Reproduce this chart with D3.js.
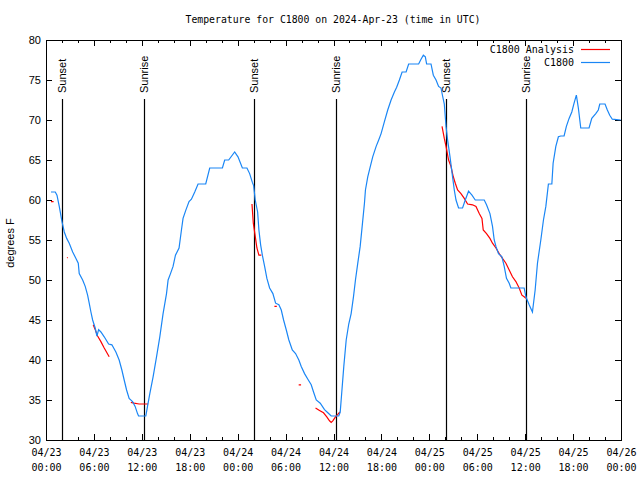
<!DOCTYPE html>
<html>
<head>
<meta charset="utf-8">
<script src="https://cdn.jsdelivr.net/npm/d3@7"></script>
<style>
  html, body { margin: 0; padding: 0; background: #fff; }
  svg { display: block; }
</style>
</head>
<body>
<script>
// ---- Data (hours since 2024-04-23 00:00 UTC, temperature in °F) ----
const startUTC = Date.UTC(2024, 3, 23, 0, 0);

const obsHours = [0.625,1.16,1.375,1.66,2.0,2.29,2.59,2.91,3.34,3.75,4.04,4.16,4.59,4.91,5.21,5.41,5.625,5.84,6.16,6.375,6.59,6.875,7.29,7.84,8.25,8.75,9.16,9.5,9.79,10.09,10.41,10.84,11.16,11.46,11.59,12.5,12.71,13.0,13.41,13.84,14.25,14.66,15.09,15.29,15.59,15.91,16.21,16.66,16.96,17.16,17.5,17.91,18.21,18.625,19.04,20.0,20.5,22.09,22.375,22.875,23.625,24.04,24.59,25.16,25.5,25.84,26.0,26.2,26.5,26.66,26.875,27.09,27.375,27.66,28.0,28.41,28.75,29.16,29.46,29.75,30.09,30.41,30.84,31.25,31.66,31.96,32.375,32.79,33.21,33.5,33.84,34.34,34.875,35.29,35.71,36.66,36.84,36.96,37.29,37.59,37.91,38.21,38.5,38.75,39.04,39.34,39.59,39.875,40.0,40.29,40.59,40.91,41.34,41.66,41.96,42.375,42.79,43.21,43.625,43.91,44.25,44.59,45.09,45.41,46.66,46.96,47.25,47.5,47.66,48.21,48.5,48.84,49.16,49.46,49.66,49.875,50.09,50.29,50.59,50.91,51.125,51.34,51.66,52.16,52.5,52.91,53.34,53.75,54.875,55.16,55.59,55.91,56.125,56.34,56.66,57.09,57.375,57.66,58.0,58.21,59.875,60.09,60.5,60.91,61.25,61.54,61.96,62.29,62.59,62.91,63.34,63.5,63.84,64.16,64.46,64.875,65.16,65.5,65.84,66.125,66.41,66.66,66.96,68.0,68.34,68.84,69.16,69.34,70.0,70.29,70.59,70.91,71.96];
const obsTemps = [61,61,60.6,59.2,57.3,56.0,55.2,54.6,53.5,52.7,52.1,50.8,50,49.2,48.1,47.1,46.0,45,44.0,43.0,43.8,43.5,42.9,42,41.9,41.0,40,38.75,37.5,36.25,35.2,34.8,34.2,33.3,33,33,34.2,35.8,37.9,40.4,42.9,45.8,48.3,50,50.8,51.7,53.1,54,56.25,57.7,58.7,59.8,60.1,61.0,62,62,64,64,65,65,66,65.4,64,64,63.3,62.2,61.8,60,58.5,56.25,54.4,53.1,51.7,50.2,49,48.3,47.1,46.9,46.25,45,43.75,42.5,41.25,40.8,40,39.2,38.3,37.6,36.9,36.0,35,34.6,33.8,33.4,33,33,33.5,35,39.2,42.5,44.5,45.8,47.9,50,52.1,54.2,56.7,59.6,61.25,62.9,64.1,65.4,66.7,67.5,68.3,69.8,71.25,72.5,73.5,74.1,75,76,76,77,77,77.6,78.1,77.9,77,77,75.6,75,74.2,74,73,72,69.2,67.5,65.4,62.9,61.25,60,59,59,60,61.1,60.6,60,60,59.4,58.3,56.7,55,54.2,53.3,52.9,51.7,50.2,49.6,49,49,47.9,46.9,46.0,48.75,52.1,55,57.5,59.2,62,62,64.6,66.7,67.9,68,68,69.2,70.2,71,72.1,73.1,71.5,69,69,70.2,70.8,71.25,72,72,71.25,70.6,70.1,70];

// Analysis series; null marks a gap
const anaHours = [0.625,0.95,null,2.62,2.72,null,5.91,6.16,6.46,6.875,7.29,7.91,null,10.625,11.04,11.66,12.79,null,25.79,25.96,26.21,26.41,26.66,26.96,null,28.6,28.9,null,31.64,31.94,null,33.75,34.25,34.75,35.16,35.5,35.71,35.91,36.25,36.54,36.8,null,49.59,49.875,50.09,50.41,50.71,51.0,51.25,51.54,51.96,52.375,52.79,53.41,53.84,54.25,54.59,54.75,55.16,55.59,55.91,56.34,56.75,57.16,57.59,58.0,58.41,58.84,59.25,59.59,59.875,60.09];
const anaTemps = [59.8,59.8,null,52.8,52.8,null,44.4,43.8,43.0,42.3,41.5,40.4,null,34.7,34.6,34.5,34.5,null,59.5,57.1,55.4,54.0,53.1,53.1,null,46.7,46.7,null,36.9,36.9,null,34.0,33.7,33.4,32.9,32.4,32.2,32.4,32.9,33.2,33.5,null,69.2,67.7,66.7,65.0,64.2,62.9,62.1,61.25,60.8,60.2,59.5,59.4,59.2,58.3,57.7,56.25,55.8,55.2,54.6,54.0,53.3,52.7,52.1,51.25,50.4,49.8,49.0,48.1,47.9,47.7];

const sunHours  = [2.04, 12.29, 26.04, 36.29, 50.04, 60.16];
const sunLabels = ["Sunset", "Sunrise", "Sunset", "Sunrise", "Sunset", "Sunrise"];

const yTickValues = [30, 35, 40, 45, 50, 55, 60, 65, 70, 75, 80];
const seriesNames = ["C1800 Analysis", "C1800"];
const seriesColors = ["#ff0000", "#1a86f5"];
const titleText = "Temperature for C1800 on 2024-Apr-23 (time in UTC)";
const yAxisLabel = "degrees F";

// ---- Layout ----
const W = 640, H = 480;
const L = 46, R = 621, T = 40, B = 440;
const toDate = h => new Date(startUTC + h * 3600e3);

const svg = d3.select("body").append("svg").attr("width", W).attr("height", H);

const x = d3.scaleUtc().domain([toDate(0), toDate(72)]).range([L, R]);
const y = d3.scaleLinear().domain([30, 80]).range([B, T]);

const monoFont = "'DejaVu Sans Mono', monospace";
const sansFont = "'Liberation Sans', Arial, sans-serif";

// Title
svg.append("text").attr("x", 333).attr("y", 23).attr("text-anchor", "middle")
  .attr("font-family", monoFont).attr("font-size", 9.8).text(titleText);

// Y axis label
svg.append("text").attr("transform", "translate(14,243) rotate(-90)")
  .attr("text-anchor", "middle").attr("font-family", sansFont).attr("font-size", 11)
  .text(yAxisLabel);

// Axes
const majorX = d3.utcHour.every(6).range(toDate(0), toDate(72.01));
const minorX = d3.utcHour.every(2).range(toDate(0), toDate(72.01));
const fmtDay = d3.utcFormat("%m/%d"), fmtHr = d3.utcFormat("%H:%M");

function tickStyle(g) {
  g.select(".domain").remove();
  g.selectAll("line").attr("stroke", "#000").attr("shape-rendering", "crispEdges");
}

// bottom minor & major
svg.append("g").attr("transform", `translate(0,${B})`)
  .call(d3.axisBottom(x).tickValues(minorX).tickSizeInner(-3).tickSizeOuter(0).tickFormat(""))
  .call(tickStyle).selectAll("text").remove();
const bx = svg.append("g").attr("transform", `translate(0,${B})`)
  .call(d3.axisBottom(x).tickValues(majorX).tickSizeInner(-6).tickSizeOuter(0).tickFormat(""))
  .call(tickStyle);
bx.selectAll(".tick text").remove();
bx.selectAll(".tick").each(function(d) {
  const t = d3.select(this).append("text").attr("font-family", monoFont).attr("font-size", 10)
    .attr("fill", "#000").attr("text-anchor", "middle");
  t.append("tspan").attr("x", 0).attr("y", 16).text(fmtDay(d));
  t.append("tspan").attr("x", 0).attr("y", 31).text(fmtHr(d));
});
// top mirror ticks
svg.append("g").attr("transform", `translate(0,${T})`)
  .call(d3.axisTop(x).tickValues(minorX).tickSizeInner(-3).tickSizeOuter(0).tickFormat(""))
  .call(tickStyle);
svg.append("g").attr("transform", `translate(0,${T})`)
  .call(d3.axisTop(x).tickValues(majorX).tickSizeInner(-6).tickSizeOuter(0).tickFormat(""))
  .call(tickStyle);

// left axis
const ly = svg.append("g").attr("transform", `translate(${L},0)`)
  .call(d3.axisLeft(y).tickValues(yTickValues).tickSizeInner(-6).tickSizeOuter(0).tickPadding(6).tickFormat(d3.format("d")))
  .call(tickStyle);
ly.selectAll("text").attr("font-family", sansFont).attr("font-size", 11).attr("fill", "#000")
  .attr("x", -5);
// right mirror
svg.append("g").attr("transform", `translate(${R},0)`)
  .call(d3.axisRight(y).tickValues(yTickValues).tickSizeInner(-6).tickSizeOuter(0).tickFormat(""))
  .call(tickStyle);

// Frame
svg.append("rect").attr("x", L).attr("y", T).attr("width", R - L).attr("height", B - T)
  .attr("fill", "none").attr("stroke", "#000").attr("shape-rendering", "crispEdges");

// Sun lines
const sun = svg.append("g");
sunHours.forEach((h, i) => {
  const sx = Math.round(x(toDate(h))) + 0.5;
  sun.append("line").attr("x1", sx).attr("x2", sx).attr("y1", 99).attr("y2", B)
    .attr("stroke", "#000").attr("stroke-width", 1.2);
  sun.append("text").attr("transform", `translate(${sx},93) rotate(-90)`)
    .attr("text-anchor", "start").attr("dy", "0.35em")
    .attr("font-family", sansFont).attr("font-size", 11).text(sunLabels[i]);
});

// Lines
const obs = obsHours.map((h, i) => ({ d: toDate(h), v: obsTemps[i] }));
const ana = anaHours.map((h, i) => ({ d: h == null ? null : toDate(h), v: anaTemps[i] }));
const line = d3.line().defined(p => p.v != null).x(p => x(p.d)).y(p => y(p.v));

svg.append("path").datum(ana).attr("d", line).attr("fill", "none")
  .attr("stroke", seriesColors[0]).attr("stroke-width", 1.2);
svg.append("path").datum(obs).attr("d", line).attr("fill", "none")
  .attr("stroke", seriesColors[1]).attr("stroke-width", 1.2);

// Legend
const legY = [49, 62];
seriesNames.forEach((n, i) => {
  svg.append("text").attr("x", 574).attr("y", legY[i]).attr("dy", "0.35em")
    .attr("text-anchor", "end").attr("font-family", monoFont).attr("font-size", 10).text(n);
  svg.append("line").attr("x1", 581).attr("x2", 610).attr("y1", legY[i] + 0.5).attr("y2", legY[i] + 0.5)
    .attr("stroke", seriesColors[i]).attr("stroke-width", 1.2);
});
</script>
</body>
</html>
